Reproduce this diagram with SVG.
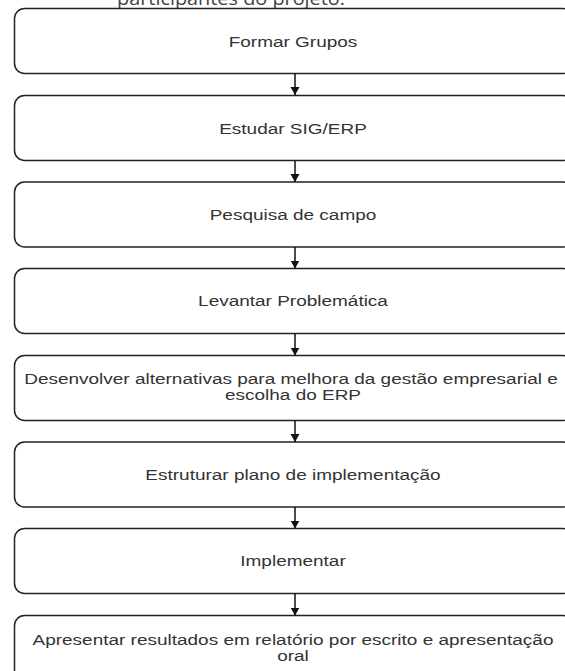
<svg xmlns="http://www.w3.org/2000/svg" width="565" height="671" viewBox="0 0 565 671">
<style>
.box{fill:#fff;stroke:#222;stroke-width:1.5}
.lbl{font-family:"Liberation Sans",Arial,sans-serif;font-size:14.5px;fill:#333;text-anchor:middle}
.top{font-family:"Open Sans","Noto Sans",sans-serif;font-size:18px;fill:#444}
.edge{stroke:#111;stroke-width:1.5;fill:none}
</style>
<defs>
<marker id="ah" markerWidth="10" markerHeight="10" refX="8" refY="5" orient="auto" markerUnits="userSpaceOnUse">
<path d="M0,0.5 L8,5 L0,9.5 Z" fill="#111"/>
</marker>
</defs>
<rect width="565" height="671" fill="#fff"/>
<text class="top" x="117" y="5" textLength="228" lengthAdjust="spacingAndGlyphs">participantes do projeto.</text>
<g id="n1"><rect class="box" x="14.5" y="8.5" width="558" height="65" rx="10"/><text class="lbl" x="0" y="47" transform="translate(293,0) scale(1.31,1)">Formar Grupos</text></g>
<g id="n2"><rect class="box" x="14.5" y="95.5" width="558" height="65" rx="10"/><text class="lbl" x="0" y="134" transform="translate(293,0) scale(1.31,1)">Estudar SIG/ERP</text></g>
<g id="n3"><rect class="box" x="14.5" y="182" width="558" height="65" rx="10"/><text class="lbl" x="0" y="220" transform="translate(293,0) scale(1.31,1)">Pesquisa de campo</text></g>
<g id="n4"><rect class="box" x="14.5" y="268.5" width="558" height="65" rx="10"/><text class="lbl" x="0" y="306" transform="translate(293,0) scale(1.31,1)">Levantar Problemática</text></g>
<g id="n5"><rect class="box" x="14.5" y="355.5" width="558" height="65" rx="10"/><text class="lbl" x="0" y="384" transform="translate(291,0) scale(1.31,1)">Desenvolver alternativas para melhora da gestão empresarial e</text><text class="lbl" x="0" y="400" transform="translate(293,0) scale(1.31,1)">escolha do ERP</text></g>
<g id="n6"><rect class="box" x="14.5" y="442" width="558" height="65" rx="10"/><text class="lbl" x="0" y="480" transform="translate(293,0) scale(1.31,1)">Estruturar plano de implementação</text></g>
<g id="n7"><rect class="box" x="14.5" y="528.5" width="558" height="65" rx="10"/><text class="lbl" x="0" y="566" transform="translate(293,0) scale(1.31,1)">Implementar</text></g>
<g id="n8"><rect class="box" x="14.5" y="615.5" width="558" height="65" rx="10"/><text class="lbl" x="0" y="645" transform="translate(293,0) scale(1.31,1)">Apresentar resultados em relatório por escrito e apresentação</text><text class="lbl" x="0" y="661" transform="translate(293,0) scale(1.31,1)">oral</text></g>
<g id="edges">
<line class="edge" x1="295" y1="73.5" x2="295" y2="95" marker-end="url(#ah)"/>
<line class="edge" x1="295" y1="160.5" x2="295" y2="182" marker-end="url(#ah)"/>
<line class="edge" x1="295" y1="247" x2="295" y2="268.5" marker-end="url(#ah)"/>
<line class="edge" x1="295" y1="333.5" x2="295" y2="355.5" marker-end="url(#ah)"/>
<line class="edge" x1="295" y1="420.5" x2="295" y2="442" marker-end="url(#ah)"/>
<line class="edge" x1="295" y1="507" x2="295" y2="528.5" marker-end="url(#ah)"/>
<line class="edge" x1="295" y1="593.5" x2="295" y2="615.5" marker-end="url(#ah)"/>
</g>
</svg>
